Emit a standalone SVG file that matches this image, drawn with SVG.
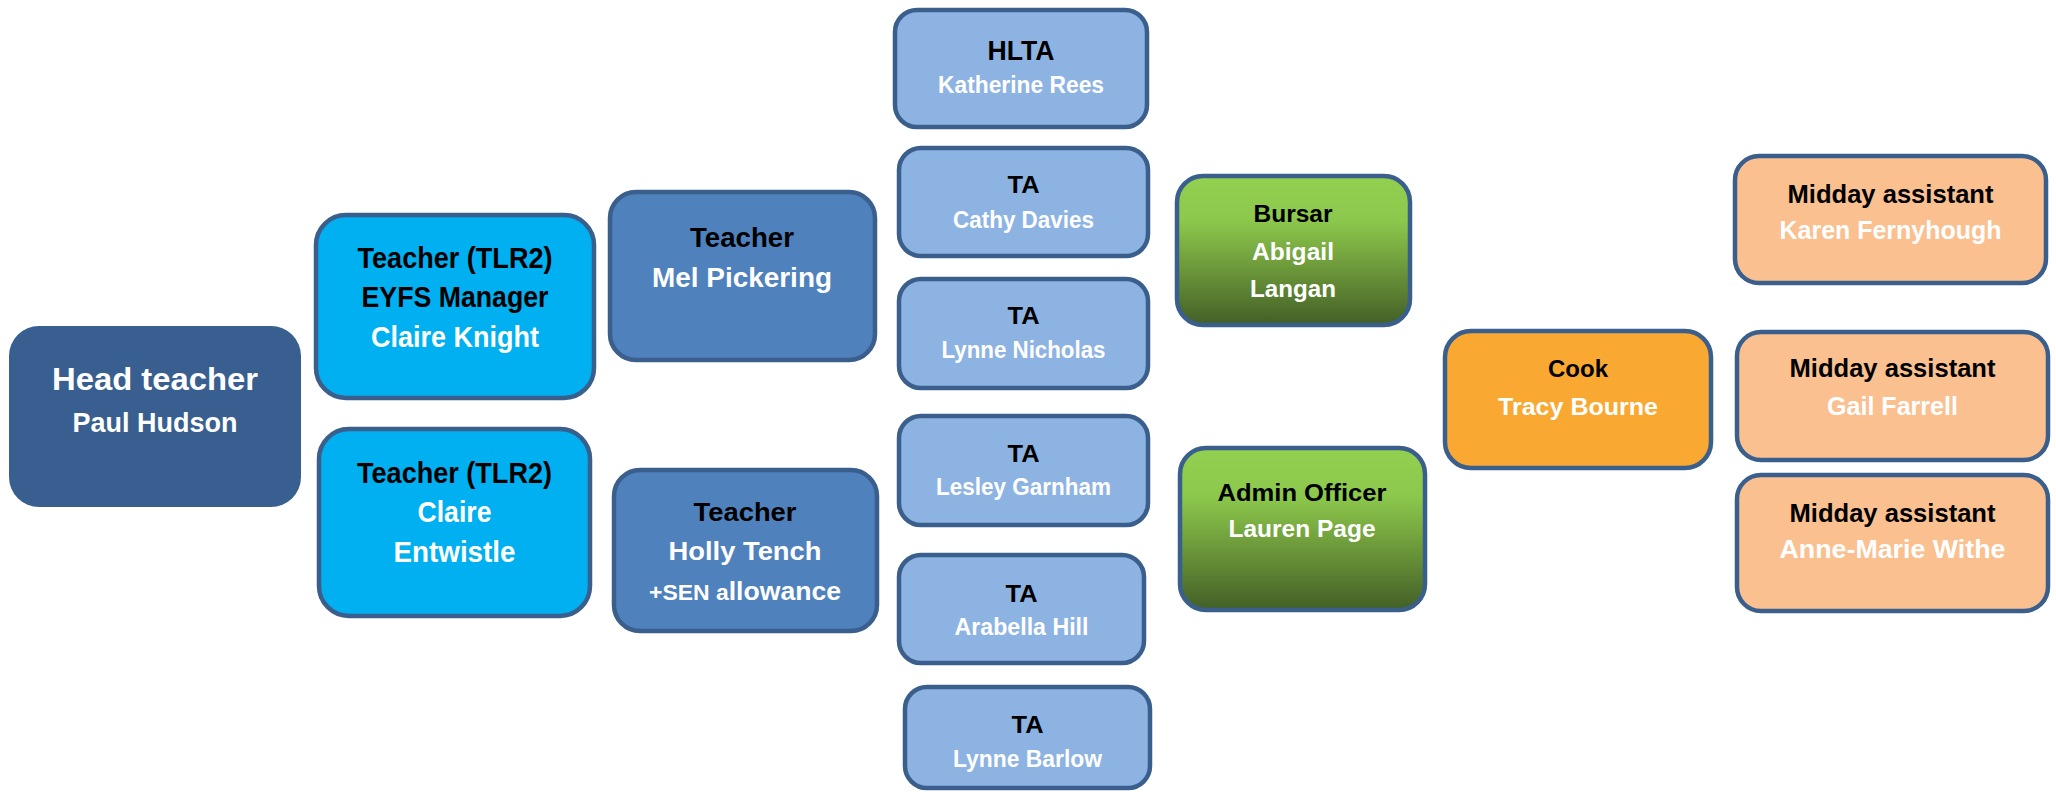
<svg xmlns="http://www.w3.org/2000/svg" width="2056" height="792" viewBox="0 0 2056 792">
<style>
  text { font-family: "Liberation Sans", Arial, sans-serif; font-weight: bold; text-anchor: middle; }
  .t { fill: #000000; }
  .n { fill: #FFFFFF; }
  .box { stroke: #3B5F8D; stroke-width: 4.5; }
  .head { fill: #385F8F; }
  .cyan { fill: #00B0F0; }
  .mid { fill: #4F81BD; }
  .ta { fill: #8DB3E2; }
  .green { fill: url(#greenGrad); }
  .cook { fill: #F9A831; }
  .midday { fill: #FAC090; }
</style>
<defs>
  <linearGradient id="greenGrad" x1="0" y1="0" x2="0" y2="1">
    <stop offset="0" stop-color="#92D050"/>
    <stop offset="0.3" stop-color="#8CC84C"/>
    <stop offset="0.6" stop-color="#6E9B3B"/>
    <stop offset="1" stop-color="#435F26"/>
  </linearGradient>
</defs>
<rect width="2056" height="792" fill="#FFFFFF"/>
<g id="connectors"></g>

<g id="head-teacher">
  <rect class="head" x="9" y="326" width="292" height="181" rx="30"/>
  <text class="n" x="155" y="390" font-size="32" textLength="206" lengthAdjust="spacingAndGlyphs">Head teacher</text>
  <text class="n" x="155" y="432" font-size="28" textLength="165" lengthAdjust="spacingAndGlyphs">Paul Hudson</text>
</g>

<g id="teacher-claire-knight">
  <rect class="box cyan" x="316" y="215" width="278" height="183" rx="30"/>
  <text class="t" x="455" y="268" font-size="30" textLength="195" lengthAdjust="spacingAndGlyphs">Teacher (TLR2)</text>
  <text class="t" x="455" y="307" font-size="30" textLength="187" lengthAdjust="spacingAndGlyphs">EYFS Manager</text>
  <text class="n" x="455" y="347" font-size="30" textLength="168" lengthAdjust="spacingAndGlyphs">Claire Knight</text>
</g>

<g id="teacher-claire-entwistle">
  <rect class="box cyan" x="319" y="429" width="271" height="187" rx="30"/>
  <text class="t" x="454.5" y="483" font-size="30" textLength="195" lengthAdjust="spacingAndGlyphs">Teacher (TLR2)</text>
  <text class="n" x="454.5" y="522" font-size="30" textLength="74" lengthAdjust="spacingAndGlyphs">Claire</text>
  <text class="n" x="454.5" y="562" font-size="30" textLength="122" lengthAdjust="spacingAndGlyphs">Entwistle</text>
</g>

<g id="teacher-mel-pickering">
  <rect class="box mid" x="610" y="192" width="265" height="168" rx="26"/>
  <text class="t" x="742" y="247" font-size="28" textLength="104" lengthAdjust="spacingAndGlyphs">Teacher</text>
  <text class="n" x="742" y="287" font-size="27" textLength="180" lengthAdjust="spacingAndGlyphs">Mel Pickering</text>
</g>

<g id="teacher-holly-tench">
  <rect class="box mid" x="614" y="470" width="263" height="161" rx="26"/>
  <text class="t" x="745" y="521" font-size="26.5" textLength="103" lengthAdjust="spacingAndGlyphs">Teacher</text>
  <text class="n" x="745" y="560" font-size="25.5" textLength="153" lengthAdjust="spacingAndGlyphs">Holly Tench</text>
  <text class="n" x="745" y="600" font-size="25.5" textLength="192" lengthAdjust="spacingAndGlyphs"><tspan font-size="22">+SEN a</tspan>llowance</text>
</g>

<g id="hlta-katherine-rees">
  <rect class="box ta" x="895" y="10" width="252" height="117" rx="22"/>
  <text class="t" x="1021" y="60" font-size="28" textLength="67" lengthAdjust="spacingAndGlyphs">HLTA</text>
  <text class="n" x="1021" y="93" font-size="23" textLength="166" lengthAdjust="spacingAndGlyphs">Katherine Rees</text>
</g>

<g id="ta-cathy-davies">
  <rect class="box ta" x="899" y="148" width="249" height="108" rx="22"/>
  <text class="t" x="1023.5" y="193" font-size="23" textLength="32" lengthAdjust="spacingAndGlyphs">TA</text>
  <text class="n" x="1023.5" y="228" font-size="23" textLength="141" lengthAdjust="spacingAndGlyphs">Cathy Davies</text>
</g>

<g id="ta-lynne-nicholas">
  <rect class="box ta" x="899" y="279" width="249" height="109" rx="22"/>
  <text class="t" x="1023.5" y="324" font-size="23" textLength="32" lengthAdjust="spacingAndGlyphs">TA</text>
  <text class="n" x="1023.5" y="358" font-size="23" textLength="164" lengthAdjust="spacingAndGlyphs">Lynne Nicholas</text>
</g>

<g id="ta-lesley-garnham">
  <rect class="box ta" x="899" y="416" width="249" height="109" rx="22"/>
  <text class="t" x="1023.5" y="462" font-size="23" textLength="32" lengthAdjust="spacingAndGlyphs">TA</text>
  <text class="n" x="1023.5" y="495" font-size="23" textLength="175" lengthAdjust="spacingAndGlyphs">Lesley Garnham</text>
</g>

<g id="ta-arabella-hill">
  <rect class="box ta" x="899" y="555" width="245" height="108" rx="22"/>
  <text class="t" x="1021.5" y="602" font-size="23" textLength="32" lengthAdjust="spacingAndGlyphs">TA</text>
  <text class="n" x="1021.5" y="635" font-size="23" textLength="134" lengthAdjust="spacingAndGlyphs">Arabella Hill</text>
</g>

<g id="ta-lynne-barlow">
  <rect class="box ta" x="905" y="687" width="245" height="101" rx="22"/>
  <text class="t" x="1027.5" y="733" font-size="23" textLength="32" lengthAdjust="spacingAndGlyphs">TA</text>
  <text class="n" x="1027.5" y="767" font-size="23" textLength="149" lengthAdjust="spacingAndGlyphs">Lynne Barlow</text>
</g>

<g id="bursar-abigail-langan">
  <rect class="box green" x="1177" y="176" width="233" height="149" rx="26"/>
  <text class="t" x="1293" y="222" font-size="23" textLength="79" lengthAdjust="spacingAndGlyphs">Bursar</text>
  <text class="n" x="1293" y="260" font-size="23" textLength="82" lengthAdjust="spacingAndGlyphs">Abigail</text>
  <text class="n" x="1293" y="297" font-size="23" textLength="86" lengthAdjust="spacingAndGlyphs">Langan</text>
</g>

<g id="admin-officer-lauren-page">
  <rect class="box green" x="1180" y="448" width="245" height="162" rx="26"/>
  <text class="t" x="1302" y="501" font-size="24" textLength="169" lengthAdjust="spacingAndGlyphs">Admin Officer</text>
  <text class="n" x="1302" y="537" font-size="24" textLength="147" lengthAdjust="spacingAndGlyphs">Lauren Page</text>
</g>

<g id="cook-tracy-bourne">
  <rect class="box cook" x="1445" y="331" width="266" height="137" rx="26"/>
  <text class="t" x="1578" y="377" font-size="24" textLength="60" lengthAdjust="spacingAndGlyphs">Cook</text>
  <text class="n" x="1578" y="415" font-size="24" textLength="160" lengthAdjust="spacingAndGlyphs">Tracy Bourne</text>
</g>

<g id="midday-karen-fernyhough">
  <rect class="box midday" x="1735" y="156" width="311" height="127" rx="24"/>
  <text class="t" x="1890.5" y="203" font-size="25" textLength="206" lengthAdjust="spacingAndGlyphs">Midday assistant</text>
  <text class="n" x="1890.5" y="239" font-size="25" textLength="222" lengthAdjust="spacingAndGlyphs">Karen Fernyhough</text>
</g>

<g id="midday-gail-farrell">
  <rect class="box midday" x="1737" y="332" width="311" height="128" rx="24"/>
  <text class="t" x="1892.5" y="377" font-size="25" textLength="206" lengthAdjust="spacingAndGlyphs">Midday assistant</text>
  <text class="n" x="1892.5" y="415" font-size="25" textLength="131" lengthAdjust="spacingAndGlyphs">Gail Farrell</text>
</g>

<g id="midday-anne-marie-withe">
  <rect class="box midday" x="1737" y="475" width="311" height="136" rx="24"/>
  <text class="t" x="1892.5" y="522" font-size="25" textLength="206" lengthAdjust="spacingAndGlyphs">Midday assistant</text>
  <text class="n" x="1892.5" y="558" font-size="25" textLength="226" lengthAdjust="spacingAndGlyphs">Anne-Marie Withe</text>
</g>
</svg>
